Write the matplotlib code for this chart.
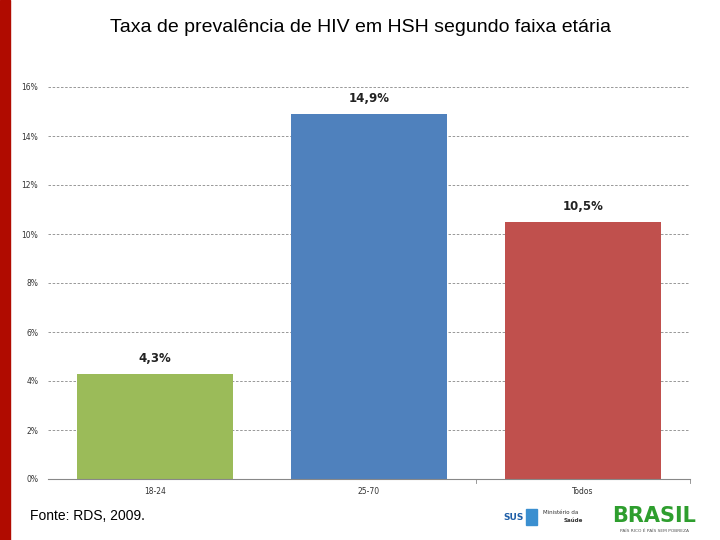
import matplotlib.pyplot as plt
import matplotlib.patches as mpatches
from matplotlib.ticker import FuncFormatter

# faixas etarias e prevalencia (%)
faixas = ["18-24", "25-70", "Todos"]
prevalencia = [4.3, 14.9, 10.5]
rotulos = ["4,3%", "14,9%", "10,5%"]
cores = ["#9BBB59", "#4F81BD", "#C0504D"]

fig = plt.figure(figsize=(7.2, 5.4), dpi=100)

# faixa vermelha na esquerda
fig.patches.append(mpatches.Rectangle((0, 0), 10 / 720, 1, transform=fig.transFigure,
                                      color="#B00B00", zorder=0))

ax = fig.add_axes([48 / 720, 1 - 479 / 540, 642 / 720, 392 / 540])
x = range(len(faixas))
ax.bar(x, prevalencia, width=0.729, color=cores, zorder=3)
for i, v in enumerate(prevalencia):
    ax.text(i, v + 0.35, rotulos[i], ha="center", va="bottom", fontsize=8.5,
            fontweight="bold", color="#222222")

ax.set_xlim(-0.5, 2.5)
ax.set_ylim(0, 16)
ax.set_yticks(range(0, 17, 2))
ax.yaxis.set_major_formatter(FuncFormatter(lambda v, p: f"{int(v)}%"))
ax.set_xticks(list(x))
ax.set_xticklabels(faixas)
ax.tick_params(axis="y", length=0, labelsize=5.5, pad=7, labelcolor="#333333")
ax.tick_params(axis="x", length=0, labelsize=5.5, pad=6, labelcolor="#333333")
ax.grid(axis="y", linestyle=(0, (3, 2)), color="#888888", linewidth=0.6, zorder=0)
for s in ["top", "right", "left"]:
    ax.spines[s].set_visible(False)
ax.spines["bottom"].set_color("#888888")
ax.spines["bottom"].set_zorder(4)
# pequenas marcas entre categorias
for xm in [1.5, 2.5]:
    ax.plot([xm, xm], [0, -0.15], color="#888888", lw=0.6, clip_on=False)

fig.text(0.5, 1 - 27 / 540, "Taxa de prevalência de HIV em HSH segundo faixa etária",
         ha="center", va="center", fontsize=14, family="Liberation Sans")
fig.text(30 / 720, 1 - 516 / 540, "Fonte: RDS, 2009.", ha="left", va="center",
         fontsize=10, family="Liberation Sans")

# logos (aproximados em texto)
fig.text(514 / 720, 1 - 517 / 540, "SUS", ha="center", va="center", fontsize=6.5,
         fontweight="bold", color="#1F5FA8")
fig.patches.append(mpatches.Rectangle((526 / 720, 1 - 525 / 540), 11 / 720, 16 / 540,
                                      transform=fig.transFigure, color="#3A8FD0"))
fig.text(561 / 720, 1 - 513 / 540, "Ministério da", ha="center", va="center",
         fontsize=4, color="#333333")
fig.text(573 / 720, 1 - 520 / 540, "Saúde", ha="center", va="center",
         fontsize=4, fontweight="bold", color="#333333")
fig.text(654 / 720, 1 - 516 / 540, "BRASIL", ha="center", va="center", fontsize=15,
         fontweight="bold", color="#2E9E2E", family="DejaVu Sans")
fig.text(654 / 720, 1 - 531 / 540, "PAÍS RICO É PAÍS SEM POBREZA", ha="center",
         va="center", fontsize=3.2, color="#555555")

fig.savefig("out.png", dpi=100)
